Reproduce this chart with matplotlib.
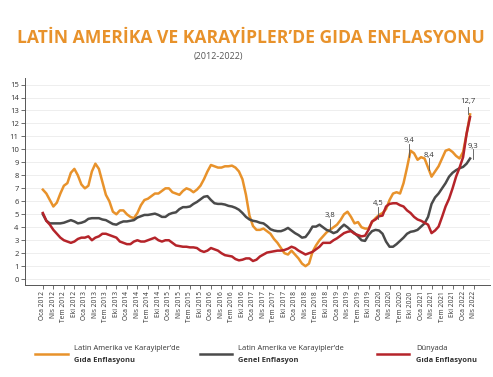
import numpy as np
import matplotlib
matplotlib.use("Agg")
import matplotlib.pyplot as plt
from matplotlib.lines import Line2D

plt.rcParams['font.family'] = ['Open Sans', 'DejaVu Sans']

# Monthly values, Oca 2012 .. Mar 2022
la_food = [6.9, 6.6, 6.1, 5.6, 5.9, 6.6, 7.2, 7.4, 8.2, 8.5, 8.0, 7.3,
           7.0, 7.2, 8.3, 8.9, 8.5, 7.5, 6.5, 6.0, 5.2, 5.0, 5.3, 5.3,
           5.0, 4.8, 4.7, 5.1, 5.7, 6.1, 6.2, 6.4, 6.6, 6.6, 6.8, 7.0,
           7.0, 6.7, 6.6, 6.5, 6.8, 7.0, 6.9, 6.7, 6.9, 7.2, 7.7, 8.3,
           8.8, 8.7, 8.6, 8.6, 8.7, 8.7, 8.75, 8.6, 8.3, 7.7, 6.5, 4.9,
           4.1, 3.8, 3.8, 3.9, 3.7, 3.5, 3.1, 2.8, 2.4, 2.0, 1.9, 2.2,
           1.9, 1.6, 1.2, 1.0, 1.2, 2.1, 2.6, 3.0, 3.3, 3.6, 3.8, 4.0,
           4.2, 4.55, 5.0, 5.2, 4.8, 4.3, 4.4, 4.0, 3.9, 3.9, 4.4, 4.7,
           4.95, 5.1, 5.4, 6.1, 6.6, 6.7, 6.6, 7.4, 8.6, 9.9, 9.7, 9.2,
           9.4, 9.3, 8.6, 7.9, 8.3, 8.7, 9.3, 9.9, 10.0, 9.8, 9.5, 9.3,
           9.8, 11.2, 12.7]
la_general = [5.0, 4.5, 4.3, 4.3, 4.3, 4.3, 4.35, 4.45, 4.55, 4.45, 4.3, 4.35,
              4.45, 4.65, 4.7, 4.7, 4.7, 4.6, 4.55, 4.4, 4.25, 4.2, 4.35, 4.45,
              4.45, 4.5, 4.55, 4.75, 4.85, 4.95, 4.95, 5.0, 5.05, 4.95, 4.8, 4.8,
              5.0, 5.1, 5.15, 5.4, 5.55, 5.55, 5.6, 5.8, 5.95, 6.15, 6.35, 6.4,
              6.1, 5.85, 5.8, 5.8, 5.75, 5.65, 5.6, 5.5, 5.35, 5.1, 4.8, 4.6,
              4.5, 4.45, 4.35, 4.3, 4.1, 3.85, 3.75, 3.7, 3.7, 3.8, 3.95, 3.75,
              3.55, 3.4, 3.2, 3.25, 3.6, 4.05, 4.05, 4.2, 4.0, 3.8, 3.7, 3.55,
              3.65, 3.95, 4.2, 4.0, 3.75, 3.55, 3.3, 3.0, 2.95, 3.4, 3.7, 3.8,
              3.75, 3.5, 2.9, 2.5, 2.5, 2.7, 2.95, 3.2, 3.5, 3.65, 3.7, 3.8,
              4.05, 4.3, 4.8, 5.8, 6.3, 6.6, 7.0, 7.4, 7.9, 8.2, 8.4, 8.55,
              8.65, 8.9, 9.3]
world_food = [5.1, 4.5, 4.2, 3.8, 3.5, 3.2, 3.0, 2.9, 2.8, 2.9, 3.1, 3.2,
              3.2, 3.3, 3.0, 3.2, 3.3, 3.5, 3.5, 3.4, 3.3, 3.2, 2.9, 2.8,
              2.7, 2.7, 2.9, 3.0, 2.9, 2.9, 3.0, 3.1, 3.2, 3.0, 2.9, 3.0,
              3.0, 2.8, 2.6, 2.55, 2.5, 2.5, 2.45, 2.45, 2.4, 2.2, 2.1, 2.2,
              2.4, 2.3, 2.2, 2.0, 1.85, 1.8, 1.75, 1.55, 1.45, 1.5, 1.6, 1.6,
              1.4, 1.5, 1.75, 1.9, 2.05, 2.1, 2.15, 2.2, 2.2, 2.25, 2.35, 2.5,
              2.4, 2.2, 2.05, 1.9, 2.0, 2.1, 2.3, 2.5, 2.8, 2.8, 2.8, 3.0,
              3.15, 3.35, 3.55, 3.65, 3.7, 3.5, 3.4, 3.3, 3.35, 3.8, 4.45, 4.6,
              4.85, 4.9, 5.6, 5.8, 5.85, 5.85, 5.7, 5.6, 5.3, 5.1, 4.8, 4.6,
              4.5, 4.35, 4.2, 3.55, 3.75, 4.05, 4.8, 5.6, 6.2, 7.0, 7.9, 8.6,
              9.4, 11.2, 12.5]

quarters = ["Oca", "Nis", "Tem", "Eki"]
years = list(range(2012, 2023))
tick_labels = [f"{q} {y}" for y in years for q in quarters][:42]

# annotations: (label, month index, text value, line top, line bottom)
annotations = [("3,8", 82, 4.9, 4.65, 3.75),
               ("4,5", 95.7, 5.87, 5.6, 4.6),
               ("9,4", 104.5, 10.7, 10.45, 9.45),
               ("8,4", 110.3, 9.5, 9.3, 8.45),
               ("12,7", 121.3, 13.7, 13.25, 12.7),
               ("9,3", 122.8, 10.2, 10.0, 9.25)]

ORANGE = '#E8922B'
GRAY = '#4A4A4A'
RED = '#B5242A'
TXT = '#333333'

fig = plt.figure(figsize=(4.93, 3.77), dpi=100)
ax = fig.add_axes([0.0507, 0.244, 0.9433, 0.549])

months = np.arange(len(la_food))
ax.plot(months, la_food, color=ORANGE, lw=1.8, zorder=3)
ax.plot(months, la_general, color=GRAY, lw=1.8, zorder=3)
ax.plot(months, world_food, color=RED, lw=1.8, zorder=4)

for lab, m, tv, top, bot in annotations:
    ax.plot([m, m], [bot, top], color='#555555', lw=0.6, zorder=5)
    ax.text(m, tv, lab, fontsize=5.5, color=TXT, ha='center', va='center', zorder=5)

ax.set_xlim(-5.1, 127.7)
ax.set_ylim(-0.45, 15.5)
ax.set_yticks(range(0, 16))
ax.set_yticklabels([str(i) for i in range(16)], fontsize=5.5, color=TXT)
ax.set_xticks(np.arange(0, 42 * 3, 3))
ax.set_xticklabels(tick_labels, rotation=90, fontsize=4.8, color=TXT)
ax.tick_params(axis='both', length=3, width=0.6, color='#555555', pad=1.5)
ax.yaxis.grid(True, color='#EBEBEB', lw=0.6)
ax.set_axisbelow(True)
for s in ['top', 'right']:
    ax.spines[s].set_visible(False)
for s in ['left', 'bottom']:
    ax.spines[s].set_color('#555555')
    ax.spines[s].set_linewidth(0.7)

fig.text(251 / 493, 1 - 38 / 377, "LATİN AMERİKA VE KARAYİPLER’DE GIDA ENFLASYONU",
         fontsize=12.6, fontweight='bold', color=ORANGE, ha='center', va='center')
fig.text(218 / 493, 1 - 56 / 377, "(2012-2022)", fontsize=6.5, color='#555555',
         ha='center', va='center')

# legend at bottom
legend_items = [(35, 68, 74, ORANGE, "Latin Amerika ve Karayipler’de", "Gıda Enflasyonu"),
                (200, 232, 238, GRAY, "Latin Amerika ve Karayipler’de", "Genel Enflasyon"),
                (377, 409, 416, RED, "Dünyada", "Gıda Enflasyonu")]
for x0, x1, xt, col, l1, l2 in legend_items:
    fig.add_artist(Line2D([x0 / 493, x1 / 493], [1 - 354 / 377] * 2, color=col, lw=1.8))
    fig.text(xt / 493, 1 - 349 / 377, l1, fontsize=5.4, color=TXT, va='center')
    fig.text(xt / 493, 1 - 360 / 377, l2, fontsize=5.4, color=TXT, va='center', fontweight='bold')

fig.savefig("out.png", dpi=100)
